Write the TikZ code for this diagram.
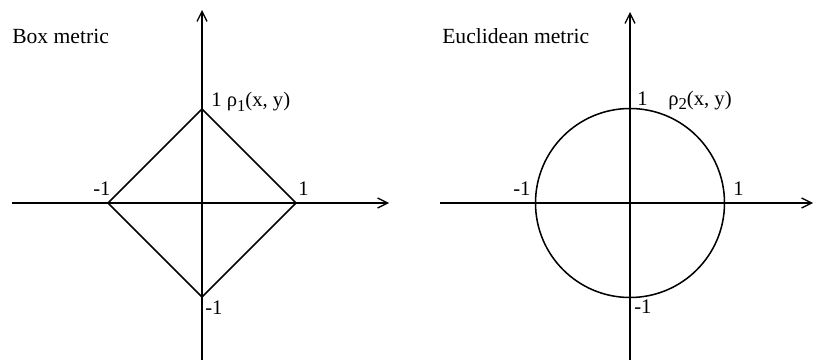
\documentclass[tikz,border=0pt]{standalone}
\usepackage{fontspec}
\setmainfont{Liberation Serif}
\usetikzlibrary{arrows.meta}
\newcommand{\mysub}[1]{\raisebox{-3.5pt}{\fontsize{12.5}{14}\selectfont #1}}
\begin{document}
\begin{tikzpicture}[x=0.75pt,y=-0.75pt,
  axis/.style={line width=1.15pt,-{Straight Barb[length=7.5pt,width=7.5pt,line width=1pt]}},
  curve/.style={line width=1.15pt},
  lbl/.style={anchor=base west,inner sep=0pt,font=\fontsize{15.5}{18}\selectfont},
  ttl/.style={anchor=base west,inner sep=0pt,font=\fontsize{16.2}{19}\selectfont}]
\useasboundingbox (0,0) rectangle (814,360);
% left plot
\coordinate (lxs) at (12,203);
\coordinate (lxe) at (389,203);
\coordinate (lys) at (202,360);
\coordinate (lye) at (202,10);
\coordinate (dt) at (202,109);
\coordinate (dr) at (296,203);
\coordinate (db) at (202,297);
\coordinate (dl) at (108,203);
\draw[axis] (lxs) -- (lxe);
\draw[axis] (lys) -- (lye);
\draw[curve,line join=miter] (dt) -- (dr) -- (db) -- (dl) -- cycle;
\node[ttl] (t1) at (12,44) {Box metric};
\node[lbl] (l1t) at (211,107) {1 ρ\mysub{1}(x, y)};
\node[lbl] (l1l) at (93,195) {-1};
\node[lbl] (l1r) at (298,195) {1};
\node[lbl] (l1b) at (205,314) {-1};
% right plot
\coordinate (rxs) at (440,203);
\coordinate (rxe) at (813,203);
\coordinate (rys) at (630,360);
\coordinate (rye) at (630,12);
\coordinate (c2) at (630,203);
\draw[axis] (rxs) -- (rxe);
\draw[axis] (rys) -- (rye);
\draw[curve] (c2) circle[radius=94.5];
\node[ttl] (t2) at (442,44) {Euclidean metric};
\node[lbl] (l2t) at (637,105) {1};
\node[lbl] (l2p) at (668,105) {ρ\mysub{2}(x, y)};
\node[lbl] (l2l) at (513,195) {-1};
\node[lbl] (l2r) at (733,195) {1};
\node[lbl] (l2b) at (634,313) {-1};
\end{tikzpicture}
\end{document}
